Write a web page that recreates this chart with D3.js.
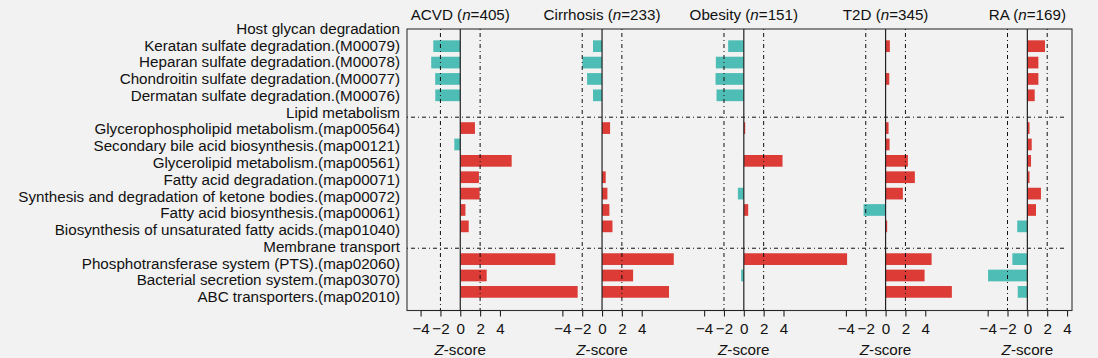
<!DOCTYPE html>
<html>
<head>
<meta charset="utf-8">
<script src="https://cdn.jsdelivr.net/npm/d3@7"></script>
<style>
  html, body { margin: 0; padding: 0; background: #f2f2f2; }
  svg { display: block; font-family: "Liberation Sans", Arial, Helvetica, sans-serif; }
</style>
</head>
<body>
<svg id="chart" width="1098" height="358"></svg>
<script>
// ---------------- data ----------------
const categories = [
  "Host glycan degradation",
  "Keratan sulfate degradation.(M00079)",
  "Heparan sulfate degradation.(M00078)",
  "Chondroitin sulfate degradation.(M00077)",
  "Dermatan sulfate degradation.(M00076)",
  "Lipid metabolism",
  "Glycerophospholipid metabolism.(map00564)",
  "Secondary bile acid biosynthesis.(map00121)",
  "Glycerolipid metabolism.(map00561)",
  "Fatty acid degradation.(map00071)",
  "Synthesis and degradation of ketone bodies.(map00072)",
  "Fatty acid biosynthesis.(map00061)",
  "Biosynthesis of unsaturated fatty acids.(map01040)",
  "Membrane transport",
  "Phosphotransferase system (PTS).(map02060)",
  "Bacterial secretion system.(map03070)",
  "ABC transporters.(map02010)"
];
const groupHeaders = ["Host glycan degradation", "Lipid metabolism", "Membrane transport"];

const diseases = ["ACVD", "Cirrhosis", "Obesity", "T2D", "RA"];
const sampleSizes = [405, 233, 151, 345, 169];

const acvd      = [null, -2.72, -2.93, -2.53, -2.52, null, 1.48, -0.60, 5.18, 1.88, 1.95, 0.52, 0.85, null, 9.58, 2.66, 11.83];
const cirrhosis = [null, -0.91, -1.98, -1.51, -0.91, null, 0.81, 0.00, 0.00, 0.37, 0.54, 0.74, 1.05, null, 7.23, 3.13, 6.75];
const obesity   = [null, -1.58, -2.82, -2.85, -2.75, null, 0.14, 0.00, 3.90, 0.00, -0.60, 0.44, 0.00, null, 10.41, -0.27, 0.00];
const t2d       = [null, 0.43, 0.00, 0.37, 0.00, null, 0.30, 0.40, 2.25, 2.95, 1.74, -2.22, 0.16, null, 4.64, 3.93, 6.68];
const ra        = [null, 1.78, 1.11, 1.11, 0.74, null, 0.22, 0.44, 0.37, 0.22, 1.37, 0.87, -1.02, null, -1.51, -3.96, -0.97];
const seriesValues = [acvd, cirrhosis, obesity, t2d, ra];

const tickValues = [-4, -2, 0, 2, 4];
const thresholds = [-2, 2];
const axisTitle = "Z-score";

// ---------------- layout ----------------
const svg = d3.select("#chart");
const FS = 15.2;
const frame = { left: 407, right: 1072, top: 29, bottom: 310.5 };
const panelSpan = 14.29;
const localMin = -5.37;
const lastMax = 4.5;
const sepEnd = 3.8;

const x = d3.scaleLinear()
  .domain([localMin, (diseases.length - 1) * panelSpan + lastMax])
  .range([frame.left, frame.right]);
const px = (p, v) => x(p * panelSpan + v);

const yBar = d3.scaleLinear().domain([0, categories.length - 1]).range([29.8, 29.8 + 16 * 16.38]);
const yLab = d3.scaleLinear().domain([0, categories.length - 1]).range([28.3, 296.7]);
const barH = 11.7;

const red = "#dc3b36", teal = "#4ebdb6";

svg.append("rect")
  .attr("x", frame.left).attr("y", frame.top)
  .attr("width", frame.right - frame.left).attr("height", frame.bottom - frame.top)
  .attr("fill", "none").attr("stroke", "#333").attr("stroke-width", 1.1);

diseases.forEach((d, p) => {
  const vals = seriesValues[p];
  svg.append("g").selectAll("rect")
    .data(vals.map((v, i) => ({ v, i })).filter(o => o.v !== null && o.v !== 0))
    .join("rect")
    .attr("x", o => Math.min(px(p, 0), px(p, o.v)))
    .attr("width", o => Math.abs(px(p, o.v) - px(p, 0)))
    .attr("y", o => yBar(o.i) - barH / 2)
    .attr("height", barH)
    .attr("fill", o => o.v > 0 ? red : teal);
});

diseases.forEach((d, p) => {
  thresholds.forEach(t => {
    svg.append("line")
      .attr("x1", px(p, t)).attr("x2", px(p, t))
      .attr("y1", frame.top).attr("y2", frame.bottom)
      .attr("stroke", "#111").attr("stroke-width", 1)
      .attr("stroke-dasharray", "1,3,4,3");
  });
});

groupHeaders.slice(1).forEach(h => {
  const i = categories.indexOf(h);
  const yy = yBar(i) + 5.5;
  svg.append("line")
    .attr("x1", frame.left).attr("x2", px(diseases.length - 1, sepEnd))
    .attr("y1", yy).attr("y2", yy)
    .attr("stroke", "#111").attr("stroke-width", 1)
    .attr("stroke-dasharray", "1,3,4,3");
});

diseases.forEach((d, p) => {
  svg.append("line")
    .attr("x1", px(p, 0)).attr("x2", px(p, 0))
    .attr("y1", frame.top).attr("y2", frame.bottom)
    .attr("stroke", "#222").attr("stroke-width", 1.2);
});

svg.append("g").selectAll("text")
  .data(categories)
  .join("text")
  .attr("x", 400)
  .attr("y", (c, i) => yLab(i) + 5.5)
  .attr("text-anchor", "end")
  .attr("font-size", FS)
  .attr("fill", "#111")
  .text(c => c);

diseases.forEach((d, p) => {
  const t = svg.append("text")
    .attr("x", px(p, 0)).attr("y", 19.5)
    .attr("text-anchor", "middle")
    .attr("font-size", FS).attr("fill", "#111");
  t.append("tspan").text(d + " (");
  t.append("tspan").attr("font-style", "italic").text("n");
  t.append("tspan").text("=" + sampleSizes[p] + ")");
});

const fmt = v => (v < 0 ? "\u2212" + Math.abs(v) : String(v));
diseases.forEach((d, p) => {
  const local = d3.scaleLinear()
    .domain([localMin, localMin + panelSpan])
    .range([px(p, localMin), px(p, localMin + panelSpan)]);
  const g = svg.append("g")
    .attr("transform", `translate(0,${frame.bottom})`)
    .call(d3.axisBottom(local).tickValues(tickValues).tickFormat(fmt).tickSize(6).tickPadding(7));
  g.select(".domain").remove();
  g.selectAll(".tick line").attr("stroke", "#222").attr("stroke-width", 1.1);
  g.selectAll(".tick text").attr("font-size", FS).attr("fill", "#111")
    .attr("font-family", "'Liberation Sans', Arial, sans-serif");
  g.append("line")
    .attr("x1", local(tickValues[0])).attr("x2", local(tickValues[tickValues.length - 1]))
    .attr("y1", 0).attr("y2", 0).attr("stroke", "#222").attr("stroke-width", 1.1);

  const zt = svg.append("text")
    .attr("x", px(p, 0)).attr("y", 354.5)
    .attr("text-anchor", "middle").attr("font-size", FS).attr("fill", "#111");
  zt.append("tspan").attr("font-style", "italic").text(axisTitle.slice(0, 1));
  zt.append("tspan").text(axisTitle.slice(1));
});
</script>
</body>
</html>
